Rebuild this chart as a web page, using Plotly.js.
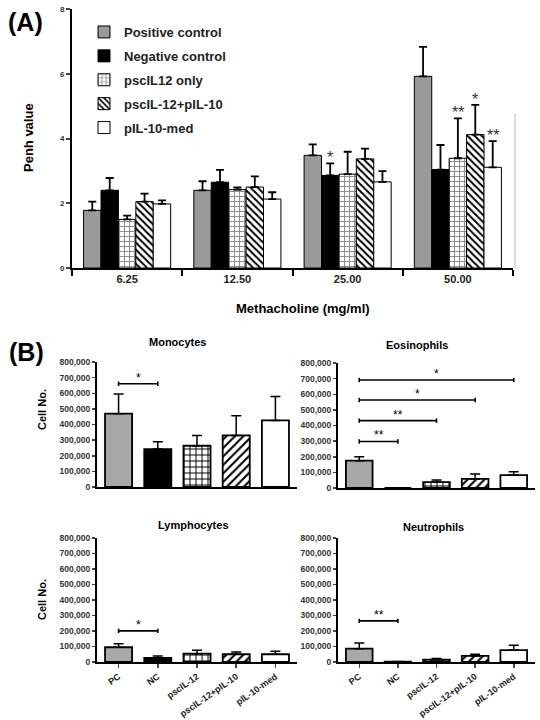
<!DOCTYPE html>
<html><head><meta charset="utf-8">
<script src="https://cdn.plot.ly/plotly-3.0.1.min.js"></script>
<style>html,body{margin:0;padding:0;background:#fff}#chart{width:540px;height:720px}</style>
</head><body><div id="chart"></div>
<script>
// ---------- Panel A data ----------
const doses = ['6.25', '12.50', '25.00', '50.00'];
const groupNames = ['Positive control', 'Negative control', 'pscIL12 only', 'pscIL-12+pIL-10', 'pIL-10-med'];
const penhPC = [1.78, 2.40, 3.48, 5.92];
const penhPCerr = [0.27, 0.28, 0.34, 0.91];
const penhNC = [2.40, 2.65, 2.86, 3.04];
const penhNCerr = [0.38, 0.38, 0.37, 0.76];
const penhPsc = [1.50, 2.42, 2.90, 3.39];
const penhPscErr = [0.12, 0.07, 0.69, 1.23];
const penhCombo = [2.05, 2.50, 3.37, 4.12];
const penhComboErr = [0.25, 0.33, 0.32, 0.92];
const penhMed = [1.98, 2.13, 2.66, 3.11];
const penhMedErr = [0.11, 0.21, 0.33, 0.81];
// [dose index, group index, label]
const penhStars = [[2, 1, '*'], [3, 2, '**'], [3, 3, '*'], [3, 4, '**']];
const penhTicks = [0, 2, 4, 6, 8];

// ---------- Panel B data ----------
const cellGroups = ['PC', 'NC', 'pscIL-12', 'pscIL-12+pIL-10', 'pIL-10-med'];
const monoMean = [469000, 243000, 264000, 330000, 426000];
const monoErr = [126000, 47000, 66000, 126000, 153000];
const eosMean = [175000, 0, 38000, 58000, 83000];
const eosErr = [25000, 0, 13000, 32000, 21000];
const lymMean = [95000, 26000, 54000, 50000, 50000];
const lymErr = [22000, 13000, 22000, 15000, 20000];
const neuMean = [86000, 2000, 15000, 39000, 77000];
const neuErr = [37000, 1000, 8000, 11000, 31000];
// [to-group index (from PC), bracket height, label]
const monoBrackets = [[1, 661000, '*']];
const eosBrackets = [[1, 298000, '**'], [2, 431000, '**'], [3, 563000, '*'], [4, 691000, '*']];
const lymBrackets = [[1, 201000, '*']];
const neuBrackets = [[1, 265000, '**']];
const cellTicks = [0, 100000, 200000, 300000, 400000, 500000, 600000, 700000, 800000];

// ---------- styling ----------
const W = 540, H = 720;
const FONT = 'Liberation Sans, Arial, sans-serif';
const px = v => v / W;
const py = v => 1 - v / H;
const A_BARGAP = 0.21;
const A_X0 = 72, A_X1 = 513;
const B_WIDTH = 0.69;

const groupStyles = [
  {color: '#9a9a9a', pattern: {shape: ''}},
  {color: '#000000', pattern: {shape: ''}},
  {color: '#ffffff', pattern: {shape: '+', fgcolor: '#8a8a8a', bgcolor: '#ffffff', size: 5, solidity: 0.35}},
  {color: '#ffffff', pattern: {shape: '\\', fgcolor: '#000000', bgcolor: '#ffffff', size: 5, solidity: 0.4}},
  {color: '#ffffff', pattern: {shape: ''}}
];
const aMeans = [penhPC, penhNC, penhPsc, penhCombo, penhMed];
const aErrs = [penhPCerr, penhNCerr, penhPscErr, penhComboErr, penhMedErr];

const traces = [];
aMeans.forEach((m, g) => {
  traces.push({
    type: 'bar', x: doses, y: m, name: groupNames[g], legendgroup: 'g' + g,
    xaxis: 'x', yaxis: 'y',
    marker: {color: groupStyles[g].color, pattern: groupStyles[g].pattern, line: {color: '#000', width: 1}},
    error_y: {type: 'data', symmetric: false, array: aErrs[g], arrayminus: m.map(() => 0),
              color: '#000', thickness: 1.8, width: 4}
  });
});

const bStyles = [
  {color: '#a8a8a8', pattern: {shape: ''}},
  {color: '#000000', pattern: {shape: ''}},
  {color: '#ffffff', pattern: {shape: '+', fgcolor: '#000', bgcolor: '#fff', size: 6, solidity: 0.3}},
  {color: '#ffffff', pattern: {shape: '/', fgcolor: '#000', bgcolor: '#fff', size: 6, solidity: 0.35}},
  {color: '#ffffff', pattern: {shape: ''}}
];
function cellTraces(mean, err, ax) {
  mean.forEach((v, i) => {
    traces.push({
      type: 'bar', x: [cellGroups[i]], y: [v], width: B_WIDTH, offset: -B_WIDTH / 2, showlegend: false,
      xaxis: 'x' + ax, yaxis: 'y' + ax,
      marker: {color: bStyles[i].color, pattern: bStyles[i].pattern, line: {color: '#000', width: 1.8}},
      error_y: {type: 'data', symmetric: false, array: [err[i]], arrayminus: [0],
                color: '#000', thickness: 1.5, width: 5}
    });
  });
}
cellTraces(monoMean, monoErr, 2);
cellTraces(eosMean, eosErr, 3);
cellTraces(lymMean, lymErr, 4);
cellTraces(neuMean, neuErr, 5);

const annotations = [];
const shapes = [];

// stars panel A
const slotPx = (A_X1 - A_X0) / doses.length;
const barPx = slotPx * (1 - A_BARGAP) / groupNames.length;
penhStars.forEach(([d, g, lab]) => {
  annotations.push({
    xref: 'x', yref: 'y', x: d, y: aMeans[g][d] + aErrs[g][d],
    xshift: (g - 2) * barPx, yanchor: 'bottom', yshift: -5, showarrow: false,
    text: lab, font: {family: FONT, size: 16, color: '#333'}
  });
});

// brackets panel B
function addBrackets(list, ax) {
  list.forEach(([to, h, lab]) => {
    const common = {type: 'line', xref: 'x' + ax, yref: 'y' + ax, line: {color: '#000', width: 1.6}};
    shapes.push(Object.assign({x0: 0, x1: to, y0: h, y1: h}, common));
    shapes.push(Object.assign({x0: 0, x1: 0, y0: h - 14000, y1: h + 14000}, common));
    shapes.push(Object.assign({x0: to, x1: to, y0: h - 14000, y1: h + 14000}, common));
    annotations.push({xref: 'x' + ax, yref: 'y' + ax, x: to / 2, y: h, yanchor: 'bottom', yshift: -3,
      showarrow: false, text: lab, font: {family: FONT, size: 12, color: '#000'}});
  });
}
addBrackets(monoBrackets, 2);
addBrackets(eosBrackets, 3);
addBrackets(lymBrackets, 4);
addBrackets(neuBrackets, 5);

// text labels
function txt(x, y, s, size, extra) {
  annotations.push(Object.assign({xref: 'paper', yref: 'paper', x: px(x), y: py(y), text: s, showarrow: false,
    xanchor: 'center', yanchor: 'middle', font: {family: FONT, size: size, color: '#000', weight: 700}}, extra || {}));
}
txt(25, 22, '(A)', 25);
txt(26, 352, '(B)', 25);
txt(177, 342, 'Monocytes', 11);
txt(417, 345, 'Eosinophils', 11);
txt(193, 525, 'Lymphocytes', 11);
txt(433, 527, 'Neutrophils', 11);
txt(303, 308, 'Methacholine (mg/ml)', 13);
txt(28, 138, 'Penh value', 13, {textangle: -90});
txt(42, 410, 'Cell No.', 11, {textangle: -90});
txt(42, 600, 'Cell No.', 11, {textangle: -90});

// thin right border artifact in panel A
shapes.push({type: 'line', xref: 'paper', yref: 'paper', x0: px(515), x1: px(515), y0: py(268), y1: py(113),
  line: {color: '#bbbbbb', width: 1}});

const bYaxis = (dom, anchor) => ({
  domain: dom, anchor: anchor, range: [0, 800000], tickvals: cellTicks, tickformat: ',', ticks: 'outside', ticklen: 3,
  tickwidth: 1.5, showline: true, linewidth: 2, linecolor: '#000', showgrid: false, zeroline: false,
  tickfont: {family: FONT, size: 8.5, color: '#333', weight: 700}
});
const bXaxis = (dom, anchor, labels) => ({
  domain: dom, anchor: anchor, type: 'category', categoryorder: 'array', categoryarray: cellGroups,
  range: [-0.55, 4.55], showline: true, linewidth: 2, linecolor: '#000',
  showgrid: false, zeroline: false, ticks: labels ? 'outside' : '', ticklen: 4, tickwidth: 1.5,
  showticklabels: labels, tickangle: -35,
  tickfont: {family: FONT, size: 9, color: '#222', weight: 700}
});

const layout = {
  width: W, height: H, margin: {l: 0, r: 0, t: 0, b: 0}, paper_bgcolor: '#fff', plot_bgcolor: 'rgba(0,0,0,0)',
  barmode: 'group', bargap: A_BARGAP, bargroupgap: 0,
  showlegend: true,
  legend: {x: px(84), y: py(17), xanchor: 'left', yanchor: 'top', bgcolor: 'rgba(0,0,0,0)',
           font: {family: FONT, size: 13, color: '#222', weight: 700}, tracegroupgap: 4,
           itemwidth: 30},
  xaxis: {domain: [px(A_X0), px(A_X1)], anchor: 'y', type: 'category', range: [-0.5, 3.5],
          tickson: 'boundaries', ticks: 'outside', ticklen: 6, tickwidth: 2, tickcolor: '#000',
          showline: true, linewidth: 2, linecolor: '#000', showgrid: false, zeroline: false,
          tickfont: {family: FONT, size: 11, color: '#222', weight: 700}},
  yaxis: {domain: [py(268), py(9)], anchor: 'x', range: [0, 8], tickvals: penhTicks, ticks: 'outside',
          ticklen: 4, tickwidth: 2, showline: true, linewidth: 2, linecolor: '#000', showgrid: false,
          zeroline: false, tickfont: {family: FONT, size: 8, color: '#333', weight: 700}},
  xaxis2: bXaxis([px(97), px(297)], 'y2', false),
  yaxis2: bYaxis([py(487), py(362)], 'x2'),
  xaxis3: bXaxis([px(338), px(535)], 'y3', false),
  yaxis3: bYaxis([py(488), py(363)], 'x3'),
  xaxis4: bXaxis([px(97), px(297)], 'y4', true),
  yaxis4: bYaxis([py(662), py(538)], 'x4'),
  xaxis5: bXaxis([px(338), px(535)], 'y5', true),
  yaxis5: bYaxis([py(662), py(538)], 'x5'),
  annotations: annotations,
  shapes: shapes
};

Plotly.newPlot('chart', traces, layout, {staticPlot: true, displayModeBar: false});
</script>
</body></html>
